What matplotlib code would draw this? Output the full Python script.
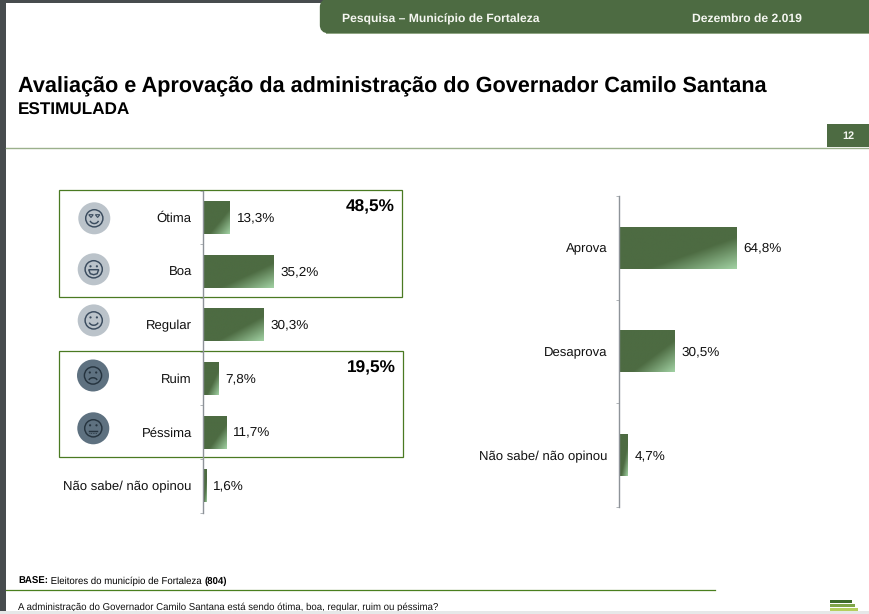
import numpy as np
import matplotlib
matplotlib.use("Agg")
import matplotlib.pyplot as plt
from matplotlib.colors import LinearSegmentedColormap
from matplotlib.patches import Rectangle, Circle, FancyBboxPatch, Arc, Polygon

plt.rcParams['font.family'] = ['Liberation Sans', 'DejaVu Sans']
plt.rcParams['text.hinting'] = 'no_hinting'
plt.rcParams['text.hinting_factor'] = 8

# ---- data ----
left_categories = ["Ótima", "Boa", "Regular", "Ruim", "Péssima", "Não sabe/ não opinou"]
left_values = [13.3, 35.2, 30.3, 7.8, 11.7, 1.6]
left_labels = ["13,3%", "35,2%", "30,3%", "7,8%", "11,7%", "1,6%"]
right_categories = ["Aprova", "Desaprova", "Não sabe/ não opinou"]
right_values = [64.8, 30.5, 4.7]
right_labels = ["64,8%", "30,5%", "4,7%"]
group_totals = ["48,5%", "19,5%"]

W, H = 869, 614
DARK = "#4D6B42"
fig = plt.figure(figsize=(W / 100, H / 100), dpi=100, facecolor="white")
bg = fig.add_axes([0, 0, 1, 1], zorder=0)
bg.set_xlim(0, W); bg.set_ylim(H, 0); bg.axis("off")


def px_axes(x0, y0, x1, y1, z=2):
    a = fig.add_axes([x0 / W, 1 - y1 / H, (x1 - x0) / W, (y1 - y0) / H], zorder=z)
    a.patch.set_alpha(0)
    return a


# ---- page furniture ----
bg.add_patch(Rectangle((0, 0), 6, H, color="#474C4E", lw=0))
bg.add_patch(Rectangle((0, 0), W, 3, color="#474C4E", lw=0))
bg.add_patch(Rectangle((0, 611), W, 3, color="#E6E8E8", lw=0, zorder=5))
bg.add_patch(FancyBboxPatch((324, 3), W + 20 - 324, 26, boxstyle="round,pad=0,rounding_size=4",
                            mutation_aspect=1, fc=DARK, ec=DARK, lw=6))
bg.add_patch(Rectangle((326, 33), W - 326, 1, color="#8FA583", lw=0))
bg.text(440.5, 19, "Pesquisa – Município de Fortaleza", color="#F4F6F0", fontsize=8.7,
        fontweight="bold", ha="center", va="center")
bg.text(747, 19, "Dezembro de 2.019", color="#F4F6F0", fontsize=8.7,
        fontweight="bold", ha="center", va="center")
bg.text(18, 87, "Avaliação e Aprovação da administração do Governador Camilo Santana",
        fontsize=15.6, fontweight="bold", color="black", ha="left", va="center")
bg.text(18, 110.5, "ESTIMULADA", fontsize=12.3, fontweight="bold", color="black", ha="left", va="center")
bg.add_patch(Rectangle((827, 124), 42, 23, color=DARK, lw=0))
bg.text(848.5, 136, "12", color="#F4F6F0", fontsize=7.8, fontweight="bold", ha="center", va="center")
bg.plot([6, W], [148, 148], color="#9BB08C", lw=1.0)
bg.plot([6, 715], [590, 590], color="#4A7F1E", lw=0.9)

# footer
fig.canvas.draw()
r = fig.canvas.get_renderer()
fx = 18
for s, w in [("BASE:", "bold"), (" Eleitores do município de Fortaleza ", "normal"), ("(804)", "bold")]:
    t = bg.text(fx, 584, s.replace(" ", "\u00a0"), fontsize=6.98, fontweight=w, color="black", ha="left", va="baseline")
    fx = bg.transData.inverted().transform(t.get_window_extent(r).get_points())[1, 0]
bg.text(18, 610, "A administração do Governador Camilo Santana está sendo ótima, boa, regular, ruim ou péssima?",
        fontsize=6.98, color="#111111", ha="left", va="baseline")
for (x0, x1, y0, y1, c) in [(830, 852, 600, 603, "#3E6B2A"), (830, 855, 604, 607, "#7FA548"), (830, 858, 608, 611, "#B4CF5E")]:
    bg.add_patch(Rectangle((x0, y0), x1 - x0, y1 - y0, color=c, lw=0))

# group boxes
BOX = "#4A7A22"
bg.add_patch(Rectangle((59.4, 190), 342.3, 107.2, fc="none", ec=BOX, lw=0.9))
bg.add_patch(Rectangle((59.4, 351), 343.3, 106.3, fc="none", ec=BOX, lw=0.9))
bg.text(394.5, 206.5, group_totals[0], fontsize=12.4, fontweight="bold", ha="right", va="center", color="black")
bg.text(395.5, 367.5, group_totals[1], fontsize=12.4, fontweight="bold", ha="right", va="center", color="black")


# ---- faces ----
def face(cx, cy, kind, disc):
    ink = "#3A4B5E" if disc == "#BBC3CA" else "#26343F"
    lw = 1.05
    bg.add_patch(Circle((cx, cy), 16, fc=disc, ec="none"))
    bg.add_patch(Circle((cx, cy), 8.6, fc="none", ec=ink, lw=lw))
    if kind == "love":
        for dx in (-3.3, 3.3):
            bg.add_patch(Polygon([(cx + dx - 2.2, cy - 3.6), (cx + dx + 2.2, cy - 3.6), (cx + dx, cy - 0.8)],
                                 closed=True, fc="none", ec=ink, lw=0.8))
        bg.add_patch(Arc((cx, cy + 1.0), 9, 8.5, theta1=20, theta2=160, ec=ink, lw=lw))
    elif kind == "grin":
        for dx in (-3.2, 3.2):
            bg.add_patch(Circle((cx + dx, cy - 3), 1.1, fc=ink, ec="none"))
        bg.add_patch(Polygon([(cx - 5, cy + 0.4), (cx + 5, cy + 0.4), (cx + 3.4, cy + 4.4),
                              (cx, cy + 5.4), (cx - 3.4, cy + 4.4)], closed=True, fc="none", ec=ink, lw=lw))
    elif kind == "smile":
        for dx in (-3.2, 3.2):
            bg.add_patch(Circle((cx + dx, cy - 3), 1.1, fc=ink, ec="none"))
        bg.add_patch(Arc((cx, cy + 0.6), 9.5, 8.5, theta1=20, theta2=160, ec=ink, lw=lw))
    elif kind == "frown":
        for dx in (-3.2, 3.2):
            bg.add_patch(Circle((cx + dx, cy - 3), 1.1, fc=ink, ec="none"))
        bg.add_patch(Arc((cx, cy + 6), 9, 7.5, theta1=200, theta2=340, ec=ink, lw=lw))
    else:
        for dx in (-3.2, 3.2):
            bg.add_patch(Circle((cx + dx, cy - 3), 1.1, fc=ink, ec="none"))
        bg.plot([cx - 4, cx + 4], [cy + 2.8, cy + 2.8], color=ink, lw=lw)
        bg.plot([cx - 4, cx + 4], [cy + 4.4, cy + 4.4], color=ink, lw=0.6, ls=(0, (1, 1)))


face(94.3, 218.3, "love", "#BBC3CA")
face(93.7, 269.3, "grin", "#BBC3CA")
face(93.7, 320.4, "smile", "#BBC3CA")
face(93.0, 375.5, "frown", "#5E7180")
face(93.3, 428.3, "flat", "#5E7180")

# ---- bars ----
cmap = LinearSegmentedColormap.from_list("g", [(0, DARK), (0.62, DARK), (1, "#A2D2A4")])
u, v = np.meshgrid(np.linspace(0, 1, 128), np.linspace(0, 1, 128))
grad = (u + v) / 2


def chart(ax, cats, vals, labs, bar_h, offset_pt, pad):
    y = np.arange(len(cats))
    bars = ax.barh(y, vals, height=bar_h, color=DARK, lw=0)
    ax.set_autoscale_on(False)
    for b in bars:
        x0, y0, w, h = b.get_x(), b.get_y(), b.get_width(), b.get_height()
        ax.imshow(grad, cmap=cmap, vmin=0, vmax=1, extent=[x0, x0 + w, y0 + h, y0], aspect="auto",
                  interpolation="bilinear", zorder=2)
    ax.set_xlim(0, 100)
    ax.set_ylim(len(cats) - 0.5, -0.5)
    for s in ("top", "right", "bottom"):
        ax.spines[s].set_visible(False)
    ax.spines["left"].set_color("#8E9399")
    ax.spines["left"].set_linewidth(1.0)
    ax.spines["left"].set_zorder(5)
    ax.set_xticks([])
    ax.set_yticks(y)
    ax.set_yticklabels(cats, fontsize=9.45, color="#111111")
    ax.tick_params(axis="y", which="major", length=0, pad=pad)
    ax.set_yticks(np.arange(len(cats) + 1) - 0.5, minor=True)
    ax.tick_params(axis="y", which="minor", length=2.5, width=0.7, color="#B0B4B8")
    for yi, val, lab in zip(y, vals, labs):
        ax.annotate(lab, (val, yi), xytext=(offset_pt, -0.3), textcoords="offset points",
                    ha="left", va="center", fontsize=9.7, color="#111111")


ax1 = px_axes(203.4, 190.7, 402.4, 512.5)
chart(ax1, left_categories, left_values, left_labels, 0.615, 4.8, 8.3)
ax2 = px_axes(619, 196, 801, 507)
chart(ax2, right_categories, right_values, right_labels, 0.405, 4.8, 8.0)

fig.savefig("out.png", dpi=100, facecolor="white")
